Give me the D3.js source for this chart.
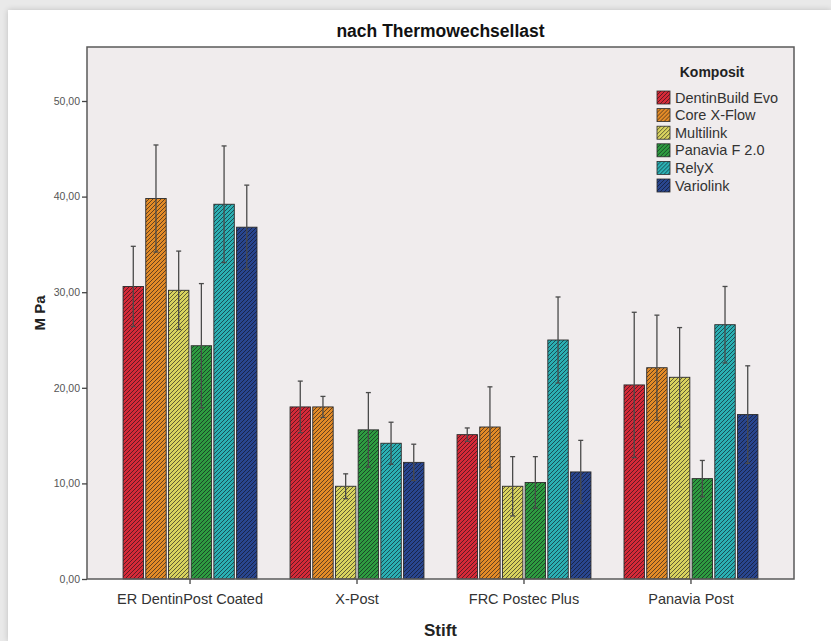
<!DOCTYPE html>
<html>
<head>
<meta charset="utf-8">
<script src="https://cdn.jsdelivr.net/npm/d3@7"></script>
<style>
  html, body { margin: 0; padding: 0; background: #e9e9e9; }
  #card { position: absolute; left: 8px; top: 10px; width: 823px; height: 631px; background: #fff;
          box-shadow: 0 0 6px rgba(0,0,0,0.18); }
  svg { position: absolute; left: 0; top: 0; font-family: "Liberation Sans", Arial, sans-serif; }
</style>
</head>
<body>
<div id="card"></div>
<svg id="chart" width="831" height="641"></svg>
<script>
// ______ data
var categories = ["ER DentinPost Coated", "X-Post", "FRC Postec Plus", "Panavia Post"]
var seriesNames = ["DentinBuild Evo", "Core X-Flow", "Multilink", "Panavia F 2.0", "RelyX", "Variolink"]
var seriesColors = ["#d62a38", "#e38b27", "#d9d35e", "#2e9c40", "#2bb0b3", "#29468f"]

var dentinBuildMean = [30.6, 18.0, 15.1, 20.3]
var coreXFlowMean   = [39.8, 18.0, 15.9, 22.1]
var multilinkMean   = [30.2,  9.7,  9.7, 21.1]
var panaviaF20Mean  = [24.4, 15.6, 10.1, 10.5]
var relyXMean       = [39.2, 14.2, 25.0, 26.6]
var variolinkMean   = [36.8, 12.2, 11.2, 17.2]

var dentinBuildErr = [4.2, 2.7, 0.7, 7.6]
var coreXFlowErr   = [5.6, 1.1, 4.2, 5.5]
var multilinkErr   = [4.1, 1.3, 3.1, 5.2]
var panaviaF20Err  = [6.5, 3.9, 2.7, 1.9]
var relyXErr       = [6.1, 2.2, 4.5, 4.0]
var variolinkErr   = [4.4, 1.9, 3.3, 5.1]

var yTicks = [0, 10, 20, 30, 40, 50]

var allMeans = [dentinBuildMean, coreXFlowMean, multilinkMean, panaviaF20Mean, relyXMean, variolinkMean]
var allErrs = [dentinBuildErr, coreXFlowErr, multilinkErr, panaviaF20Err, relyXErr, variolinkErr]

var rows = []
categories.forEach(function (c, ci) {
  seriesNames.forEach(function (s, si) {
    rows.push({ cat: c, ser: s, si: si, v: allMeans[si][ci], e: allErrs[si][ci] })
  })
})

// ______ layout  (plot box edges)
var pLeft = 87, pRight = 794, pTop = 47, pBottom = 579
var svg = d3.select("#chart")

var x0 = d3.scaleBand().domain(categories).range([pLeft, pRight])
  .paddingInner(0.198).paddingOuter(0.216)
var x1 = d3.scaleBand().domain(seriesNames).range([0, x0.bandwidth()]).paddingInner(0.1)
var y = d3.scaleLinear().domain([0, 50]).range([pBottom, 101])

// ______ hatch patterns
var defs = svg.append("defs")
seriesNames.forEach(function (s, i) {
  var p = defs.append("pattern")
    .attr("id", "hatch" + i)
    .attr("patternUnits", "userSpaceOnUse")
    .attr("width", 4).attr("height", 4)
  p.append("rect").attr("width", 4).attr("height", 4).attr("fill", seriesColors[i])
  p.append("path")
    .attr("d", "M-1,1 l2,-2 M0,4 l4,-4 M3,5 l2,-2")
    .attr("stroke", "rgba(15,15,25,0.6)")
    .attr("stroke-width", 1)
})

// plot background
svg.append("rect")
  .attr("x", pLeft).attr("y", pTop)
  .attr("width", pRight - pLeft).attr("height", pBottom - pTop)
  .attr("fill", "#f0eced")

// title
svg.append("text")
  .attr("x", (pLeft + pRight) / 2).attr("y", 37)
  .attr("text-anchor", "middle")
  .style("font-size", "17.5px").style("font-weight", "bold").attr("fill", "#111")
  .text("nach Thermowechsellast")

// ______ bars
var bars = svg.append("g").attr("class", "bars")
bars.selectAll("rect")
  .data(rows)
  .enter()
  .append("rect")
    .attr("x", function (d) { return x0(d.cat) + x1(d.ser) })
    .attr("y", function (d) { return y(d.v) })
    .attr("width", x1.bandwidth())
    .attr("height", function (d) { return y(0) - y(d.v) })
    .attr("fill", function (d) { return "url(#hatch" + d.si + ")" })
    .attr("stroke", "#2a2a2a")
    .attr("stroke-width", 0.9)

// ______ error bars
var errs = svg.append("g").attr("class", "errs")
  .attr("stroke", "#4a4a4a")
  .attr("stroke-width", 1.3)
var eg = errs.selectAll("g")
  .data(rows)
  .enter()
  .append("g")
eg.append("line")
  .attr("x1", function (d) { return x0(d.cat) + x1(d.ser) + x1.bandwidth() / 2 })
  .attr("x2", function (d) { return x0(d.cat) + x1(d.ser) + x1.bandwidth() / 2 })
  .attr("y1", function (d) { return y(d.v + d.e) })
  .attr("y2", function (d) { return y(d.v - d.e) })
eg.selectAll("line.cap")
  .data(function (d) { return [d.v + d.e, d.v - d.e].map(function (v) { return { d: d, v: v } }) })
  .enter()
  .append("line")
  .attr("class", "cap")
  .attr("x1", function (c) { return x0(c.d.cat) + x1(c.d.ser) + x1.bandwidth() / 2 - 2.5 })
  .attr("x2", function (c) { return x0(c.d.cat) + x1(c.d.ser) + x1.bandwidth() / 2 + 2.5 })
  .attr("y1", function (c) { return y(c.v) })
  .attr("y2", function (c) { return y(c.v) })

// plot border
svg.append("rect")
  .attr("x", pLeft).attr("y", pTop)
  .attr("width", pRight - pLeft).attr("height", pBottom - pTop)
  .attr("fill", "none")
  .attr("stroke", "#5a5a5a")
  .attr("stroke-width", 1.5)

// ______ axes
var fmt = function (v) { return d3.format(".2f")(v).replace(".", ",") }
var yAxis = svg.append("g")
  .attr("transform", "translate(" + pLeft + ",0)")
  .call(d3.axisLeft(y).tickValues(yTicks).tickFormat(fmt).tickSize(5).tickPadding(2))
yAxis.select(".domain").remove()
yAxis.selectAll("line").attr("stroke", "#444").attr("stroke-width", 1.3)
yAxis.selectAll("text").style("font-size", "10.5px").attr("fill", "#555")
  .style("font-family", "\"Liberation Sans\", Arial, sans-serif")

var xAxis = svg.append("g")
  .attr("transform", "translate(0," + pBottom + ")")
  .call(d3.axisBottom(x0).tickSize(5).tickPadding(10))
xAxis.select(".domain").remove()
xAxis.selectAll("line").attr("stroke", "#444").attr("stroke-width", 1.3)
xAxis.selectAll("text").style("font-size", "14.5px").attr("fill", "#333")
  .style("font-family", "\"Liberation Sans\", Arial, sans-serif")

// axis titles
svg.append("text")
  .attr("transform", "translate(45," + ((pTop + pBottom) / 2) + ") rotate(-90)")
  .attr("text-anchor", "middle")
  .style("font-size", "15px").style("font-weight", "bold").attr("fill", "#222")
  .text("M Pa")
svg.append("text")
  .attr("x", (pLeft + pRight) / 2).attr("y", 636)
  .attr("text-anchor", "middle")
  .style("font-size", "17px").style("font-weight", "bold").attr("fill", "#222")
  .text("Stift")

// ______ legend
var legend = svg.append("g").attr("class", "legend")
legend.append("text")
  .attr("x", 712).attr("y", 77)
  .attr("text-anchor", "middle")
  .style("font-size", "14px").style("font-weight", "bold").attr("fill", "#222")
  .text("Komposit")
var li = legend.selectAll("g.item")
  .data(seriesNames)
  .enter()
  .append("g")
  .attr("class", "item")
  .attr("transform", function (d, i) { return "translate(657," + (91 + i * 17.6) + ")" })
li.append("rect")
  .attr("width", 13).attr("height", 13)
  .attr("fill", function (d, i) { return "url(#hatch" + i + ")" })
  .attr("stroke", "#2a2a2a").attr("stroke-width", 0.8)
li.append("text")
  .attr("x", 18).attr("y", 11.5)
  .style("font-size", "14.5px").attr("fill", "#333")
  .text(function (d) { return d })
</script>
</body>
</html>
